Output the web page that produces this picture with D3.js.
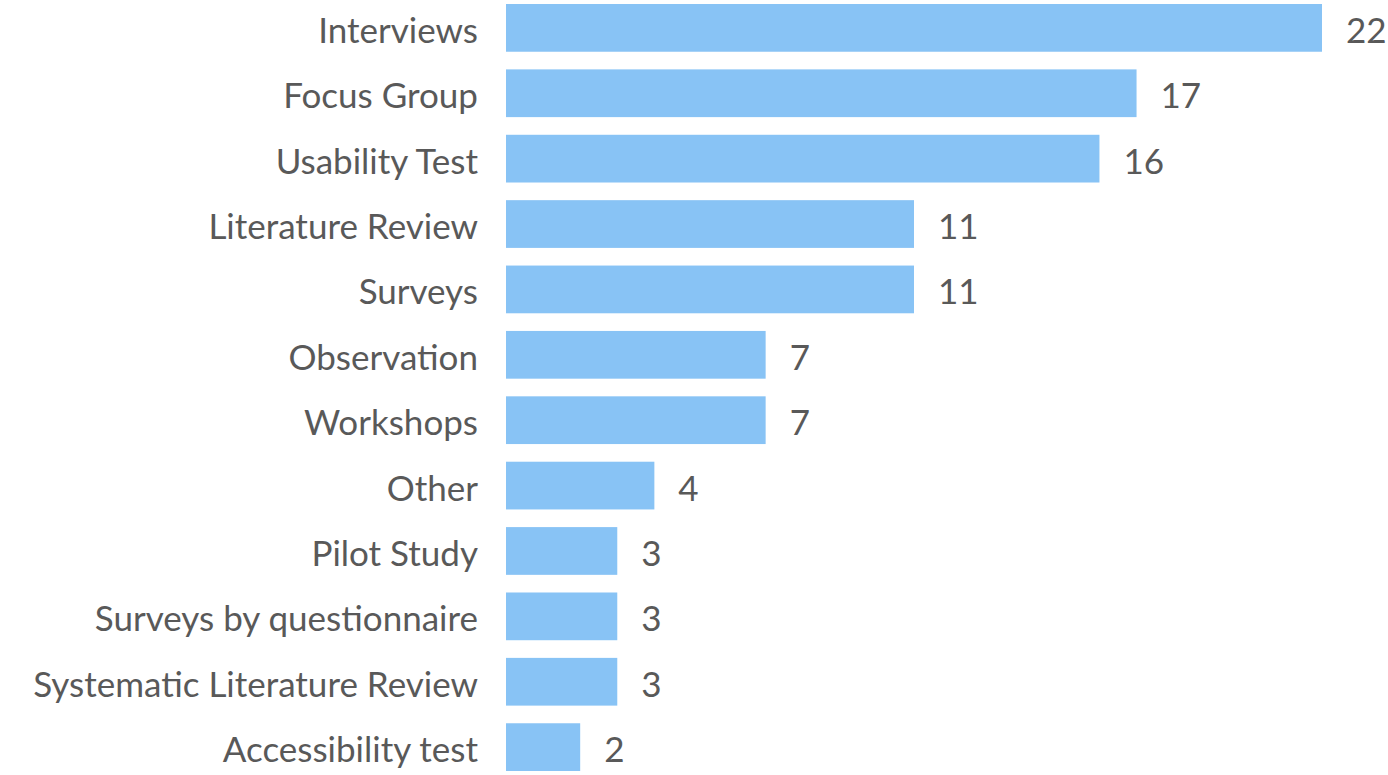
<!DOCTYPE html>
<html>
<head>
<meta charset="utf-8">
<script src="https://cdn.jsdelivr.net/npm/d3@7"></script>
<style>
	body { margin: 0; background: #fff; }
	.label { fill: #595959; font-family: Lato, "Noto Sans", sans-serif; font-size: 35px; }
</style>
</head>
<body>
<script>
// categories and counts, top to bottom
var methods = ["Interviews", "Focus Group", "Usability Test", "Literature Review", "Surveys",
	"Observation", "Workshops", "Other", "Pilot Study", "Surveys by questionnaire",
	"Systematic Literature Review", "Accessibility test"];
var counts = [22, 17, 16, 11, 11, 7, 7, 4, 3, 3, 3, 2];

var width = 1388,
	height = 775;

var svg = d3.select("body")
	.append("svg")
	.attr("width", width)
	.attr("height", height);

// x runs from the bar start to the end of the longest bar
var x = d3.scaleLinear()
	.domain([0, 22])
	.range([506, 1322]);

var y = d3.scaleBand()
	.domain(methods)
	.range([4, 771])
	.paddingInner(0.27)
	.paddingOuter(0);

var rows = methods.map(function(m, i){ return { name: m, value: counts[i] }; });

// baseline sits a little below the bar centre
function baseline(d){ return y(d.name) + y.bandwidth() / 2 + 15; }

// bars
svg.selectAll(".bar")
	.data(rows)
	.enter()
	.append("rect")
	.attr("class", "bar")
	.attr("x", x(0))
	.attr("y", function(d){ return y(d.name); })
	.attr("width", function(d){ return x(d.value) - x(0); })
	.attr("height", y.bandwidth())
	.attr("fill", "#88c3f5");

// category labels
svg.selectAll(".cat")
	.data(rows)
	.enter()
	.append("text")
	.attr("class", "label cat")
	.attr("x", x(0) - 28)
	.attr("y", baseline)
	.attr("text-anchor", "end")
	.text(function(d){ return d.name; });

// value labels
svg.selectAll(".val")
	.data(rows)
	.enter()
	.append("text")
	.attr("class", "label val")
	.attr("x", function(d){ return x(d.value) + 24; })
	.attr("y", baseline)
	.text(function(d){ return d.value; });
</script>
</body>
</html>
